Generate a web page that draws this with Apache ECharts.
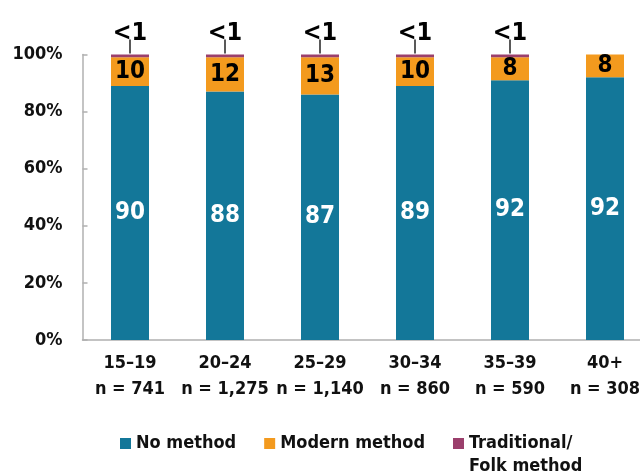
<!DOCTYPE html>
<html><head><meta charset="utf-8">
<script src="https://cdn.jsdelivr.net/npm/echarts@6/dist/echarts.min.js"></script>
<style>html,body{margin:0;padding:0;background:#fff}#c{width:640px;height:472px}</style>
</head><body><div id="c"></div>
<script>
const categories = ['15–19\nn = 741', '20–24\nn = 1,275', '25–29\nn = 1,140', '30–34\nn = 860', '35–39\nn = 590', '40+\nn = 308'];
const noMethod = [89, 87, 86, 89, 91, 92];
const noMethodLabels = ['90', '88', '87', '89', '92', '92'];
const modern = [10, 12, 13, 10, 8, 8];
const modernLabels = ['10', '12', '13', '10', '8', '8'];
const traditional = [1, 1, 1, 1, 1, 0];
const traditionalLabels = ['<1', '<1', '<1', '<1', '<1', ''];
const yTicks = [0, 20, 40, 60, 80, 100];
const seriesNames = ['No method', 'Modern method', 'Traditional/\nFolk method'];

const FONT = '"DejaVu Sans Condensed", "Liberation Sans", sans-serif';
const chart = echarts.init(document.getElementById('c'));
chart.setOption({
  animation: false,
  textStyle: { fontFamily: FONT },
  grid: { left: 82.5, width: 570, top: 54.5, bottom: 132, containLabel: false, outerBoundsMode: 'none' },
  legend: {
    top: 404, left: 115, itemWidth: 11, itemHeight: 11, itemGap: 28,
    icon: 'rect',
    textStyle: { fontFamily: FONT, fontWeight: 'bold', fontSize: 18, color: '#111', lineHeight: 23 },
    formatter: name => name.indexOf('\n') >= 0 ? '\n' + name : name,
    data: seriesNames
  },
  xAxis: {
    type: 'category', data: categories,
    axisLine: { lineStyle: { color: '#b0b0b0', width: 1.5 } },
    axisTick: { show: false },
    axisLabel: { fontFamily: FONT, fontWeight: 'bold', fontSize: 18, color: '#111', lineHeight: 26, margin: 10, interval: 0 }
  },
  yAxis: {
    type: 'value', min: 0, max: 100, interval: 20,
    axisLine: { show: true, lineStyle: { color: '#b0b0b0', width: 1.5 } },
    axisTick: { show: true, inside: true, length: 5, lineStyle: { color: '#b0b0b0', width: 1.5 } },
    splitLine: { show: false },
    axisLabel: { fontFamily: FONT, fontWeight: 'bold', fontSize: 18, color: '#111', margin: 20,
      formatter: v => yTicks.includes(v) ? v + '%' : '' }
  },
  series: [
    { name: seriesNames[0], type: 'bar', stack: 's', barWidth: 38, data: noMethod,
      itemStyle: { color: '#137799' },
      label: { show: true, position: 'inside', color: '#fff', fontFamily: FONT, fontWeight: 'bold', fontSize: 24,
        formatter: p => noMethodLabels[p.dataIndex] } },
    { name: seriesNames[1], type: 'bar', stack: 's', barWidth: 38, data: modern,
      itemStyle: { color: '#F39A1E' },
      label: { show: true, position: 'inside', color: '#000', fontFamily: FONT, fontWeight: 'bold', fontSize: 24,
        formatter: p => modernLabels[p.dataIndex] } },
    { name: seriesNames[2], type: 'bar', stack: 's', barWidth: 38, data: traditional,
      itemStyle: { color: '#9B3F6C' },
      label: { show: true, position: 'top', distance: 1, color: '#000',
        formatter: p => traditionalLabels[p.dataIndex] ? '{t|' + traditionalLabels[p.dataIndex] + '}\n{l|}' : '',
        rich: {
          t: { fontFamily: FONT, fontWeight: 'bold', fontSize: 25, color: '#000', lineHeight: 13, align: 'center' },
          l: { width: 1.5, height: 14, backgroundColor: '#222', align: 'center' }
        } } }
  ]
});
</script></body></html>
